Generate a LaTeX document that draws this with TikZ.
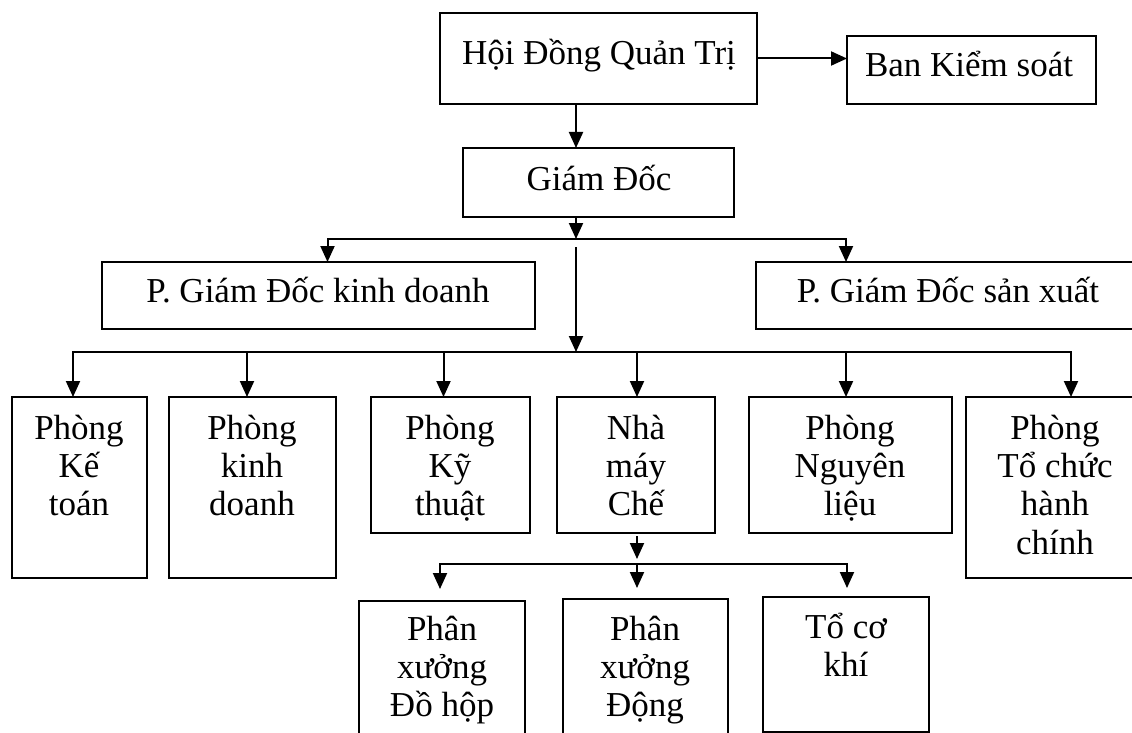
\documentclass[tikz,border=0pt]{standalone}
\usepackage{fontspec}
\setmainfont{Liberation Serif}
\usetikzlibrary{arrows.meta}

% multi-line label whose reference point is the first baseline
\newcommand{\boxtxt}[1]{\begin{tabular}[t]{@{}c@{}}#1\end{tabular}}

\begin{document}
\begin{tikzpicture}[x=1pt, y=-1pt,
  unit/.style={draw, line width=2pt, inner sep=0pt, outer sep=0pt,
               anchor=north west, minimum width=#1},
  txt/.style={anchor=base, inner sep=0pt,
              font=\fontsize{35pt}{38.4pt}\selectfont},
  arr/.style={line width=2pt, -{Triangle[length=16pt, width=14pt]}}]

\useasboundingbox (0,0) rectangle (1132,733);

% ---- boxes (top-left corner, width, height) ----
\node[unit=317pt, minimum height=91pt]  (hdqt)  at (440,13)  {};
\node[unit=249pt, minimum height=68pt]  (ban)   at (847,36)  {};
\node[unit=271pt, minimum height=69pt]  (gd)    at (463,148) {};
\node[unit=433pt, minimum height=67pt]  (pgdkd) at (102,262) {};
\node[unit=388pt, minimum height=67pt]  (pgdsx) at (756,262) {};

\node[unit=135pt, minimum height=181pt] (kt)  at (12,397)  {};
\node[unit=167pt, minimum height=181pt] (kd)  at (169,397) {};
\node[unit=159pt, minimum height=136pt] (kth) at (371,397) {};
\node[unit=158pt, minimum height=136pt] (nm)  at (557,397) {};
\node[unit=203pt, minimum height=136pt] (nl)  at (749,397) {};
\node[unit=178pt, minimum height=181pt] (tc)  at (966,397) {};

\node[unit=166pt, minimum height=160pt] (doh)  at (359,601) {};
\node[unit=165pt, minimum height=162pt] (dong) at (563,599) {};
\node[unit=166pt, minimum height=135pt] (tck)  at (763,597) {};

% ---- labels ----
\node[txt] (thdqt)  at (599,65)  {Hội Đồng Quản Trị};
\node[txt] (tban)   at (969,77)  {Ban Kiểm soát};
\node[txt] (tgd)    at (599,190) {Giám Đốc};
\node[txt] (tpgdkd) at (318,302) {P. Giám Đốc kinh doanh};
\node[txt] (tpgdsx) at (948,302) {P. Giám Đốc sản xuất};

\node[txt] (tkt)  at (79,439)   {\boxtxt{Phòng\\Kế\\toán}};
\node[txt] (tkd)  at (252,439)  {\boxtxt{Phòng\\kinh\\doanh}};
\node[txt] (tkth) at (450,439)  {\boxtxt{Phòng\\Kỹ\\thuật}};
\node[txt] (tnm)  at (636,439)  {\boxtxt{Nhà\\máy\\Chế}};
\node[txt] (tnl)  at (850,439)  {\boxtxt{Phòng\\Nguyên\\liệu}};
\node[txt] (ttc)  at (1055,439) {\boxtxt{Phòng\\Tổ chức\\hành\\chính}};

\node[txt] (tdoh)  at (442,640) {\boxtxt{Phân\\xưởng\\Đồ hộp}};
\node[txt] (tdong) at (645,640) {\boxtxt{Phân\\xưởng\\Động}};
\node[txt] (ttck)  at (846,638) {\boxtxt{Tổ cơ\\khí}};

% ---- junction points of the connector buses ----
\coordinate (spine) at (576,0);
\coordinate (bus1) at (576,239);
\coordinate (bus2) at (576,352);
\coordinate (bus3) at (637,564);

% ---- connectors ----
\draw[arr] (hdqt.east) -- (hdqt.east -| ban.west);
\draw[arr] (hdqt.south -| spine) -- (gd.north -| spine);
\draw[arr] (gd.south -| spine) -- (bus1);

\draw[arr] (bus1) -| ([xshift=225.5pt]pgdkd.north west);
\draw[arr] (bus1) -| ([xshift=90pt]pgdsx.north west);
\draw[arr] ([yshift=-8pt]bus1) -- (bus2);

\draw[arr] (bus2) -| ([xshift=61pt]kt.north west);
\draw[arr] (bus2) -| ([xshift=78pt]kd.north west);
\draw[arr] (bus2) -| ([xshift=72.5pt]kth.north west);
\draw[arr] (bus2) -| ([xshift=80pt]nm.north west);
\draw[arr] (bus2) -| ([xshift=97pt]nl.north west);
\draw[arr] (bus2) -| ([xshift=105pt]tc.north west);

\draw[arr] ([yshift=-3pt]nm.south -| bus3) -- ([yshift=5pt]bus3);
\draw[arr] (bus3) -| ([xshift=81pt, yshift=12pt]doh.north west);
\draw[arr] (bus3) -| ([xshift=74pt, yshift=11pt]dong.north west);
\draw[arr] (bus3) -| ([xshift=84pt, yshift=9pt]tck.north west);

\end{tikzpicture}
\end{document}
